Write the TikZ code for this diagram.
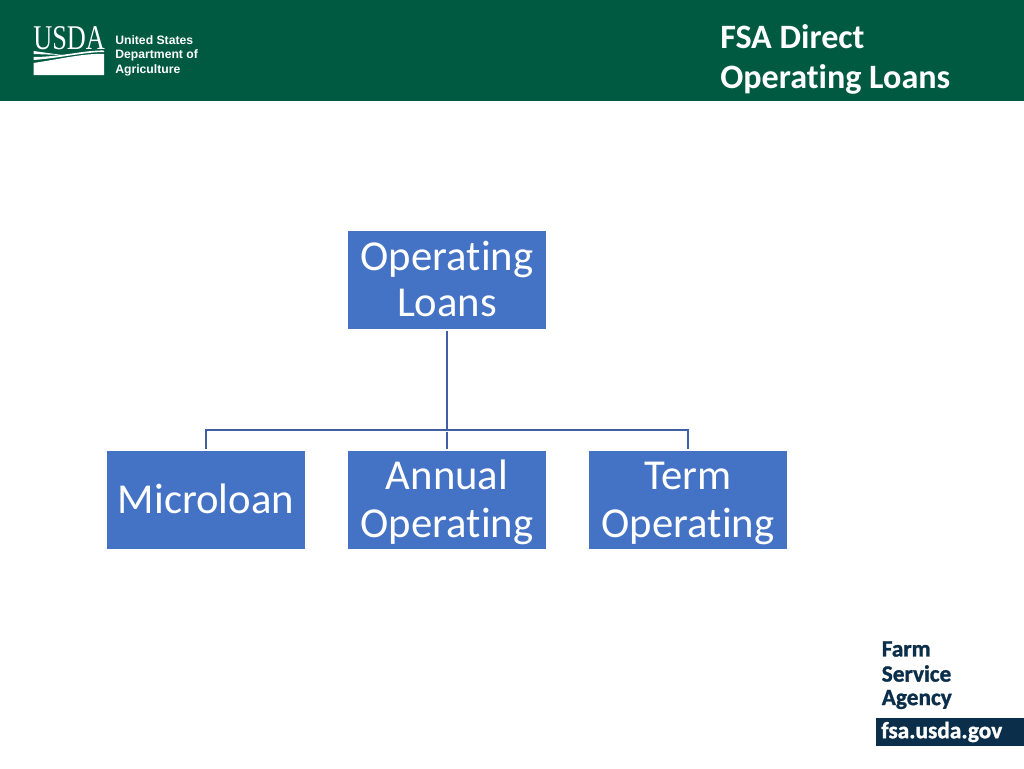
\documentclass[tikz,border=0pt]{standalone}
\usepackage{graphicx}
\usepackage{fontspec}
\setmainfont[Ligatures=NoCommon]{Carlito}
\newfontfamily\logosans{Liberation Sans}
\newfontfamily\logoserif{Liberation Serif}
\newfontfamily\agencyfont[UprightFeatures={FakeBold=1.2}]{Carlito Bold}
\definecolor{usdagreen}{HTML}{005941}
\definecolor{boxblue}{HTML}{4472C4}
\definecolor{linkblue}{HTML}{3F5FA8}
\definecolor{fsanavy}{HTML}{0B2F4A}
\newcommand{\boxstrut}{\rule[-0.168em]{0pt}{0.968em}}
\tikzset{
  loanbox/.style={fill=boxblue, text=white, minimum width=148.5pt, minimum height=73.5pt, inner sep=0pt, align=center, font=\fontsize{32}{35.5}\selectfont},
  treelink/.style={draw=linkblue, line width=1pt, shorten <=1.5pt, shorten >=1.5pt},
  titletext/.style={text=white, anchor=west, inner sep=0pt, font=\fontsize{25.6}{28}\bfseries\selectfont},
  logotext/.style={text=white, anchor=west, inner sep=0pt, font=\fontsize{9.15}{11}\logosans\bfseries\selectfont},
  agencytext/.style={text=fsanavy, anchor=west, inner sep=0pt, font=\fontsize{17.5}{20}\agencyfont\selectfont}
}
\begin{document}
\begin{tikzpicture}[x=0.75pt,y=-0.75pt]
  \useasboundingbox (0,0) rectangle (1024,768);

  % Banner
  \fill[usdagreen] (0,0) rectangle (1024,101);
  \node[titletext] (title1) at (720,37) {FSA Direct};
  \node[titletext] (title2) at (720,79) {Operating Loans};

  % USDA logo
  \node[text=white, anchor=west, inner sep=0pt, font=\fontsize{26}{26}\logoserif\selectfont] (usda) at (33,38.5) {\scalebox{0.76}[1]{USDA}};
  \fill[white] (33.5,63) .. controls (60,59) and (85,53) .. (104,54) -- (104,75) -- (33.5,75) -- cycle;
  \fill[white] (33.5,51) -- (62,55) -- (33.5,54) -- cycle;
  \fill[white] (33.5,57) .. controls (60,57) and (85,50) .. (104,50.5) -- (104,52) .. controls (85,52) and (60,58) .. (33.5,60) -- cycle;
  \node[logotext] (dept1) at (115,40) {United States};
  \node[logotext] (dept2) at (115,55.5) {Department of};
  \node[logotext] (dept3) at (115,70.5) {Agriculture};

  % Boxes
  \node[loanbox] (oploans) at (447,280) {\boxstrut Operating\\[-1pt]\boxstrut Loans};
  \node[loanbox] (micro) at (206,500) {\rule[-1.5pt]{0pt}{1.5pt}Microloan};
  \node[loanbox] (annual) at (447,500) {\boxstrut Annual\\\boxstrut Operating};
  \node[loanbox] (termop) at (688,500) {\boxstrut Term\\\boxstrut Operating};

  % Links
  \coordinate (branch) at (447,430);
  \draw[treelink, line width=1.4pt, shorten >=0pt] (oploans.south) -- (branch);
  \draw[treelink] (branch) -- (annual.north);
  \draw[treelink, shorten <=0pt] (branch) -| (micro.north);
  \draw[treelink, shorten <=0pt] (branch) -| (termop.north);

  % Agency mark
  \node[agencytext] (farm) at (881.5,649) {Farm};
  \node[agencytext] (service) at (881.5,673.5) {Service};
  \node[agencytext] (agency) at (881.5,699.5) {Agency};
  \fill[fsanavy] (876,718) rectangle (1024,746);
  \node[text=white, anchor=west, inner sep=0pt, font=\fontsize{17.5}{20}\agencyfont\selectfont] (web) at (881,732) {fsa.usda.gov};
\end{tikzpicture}
\end{document}
